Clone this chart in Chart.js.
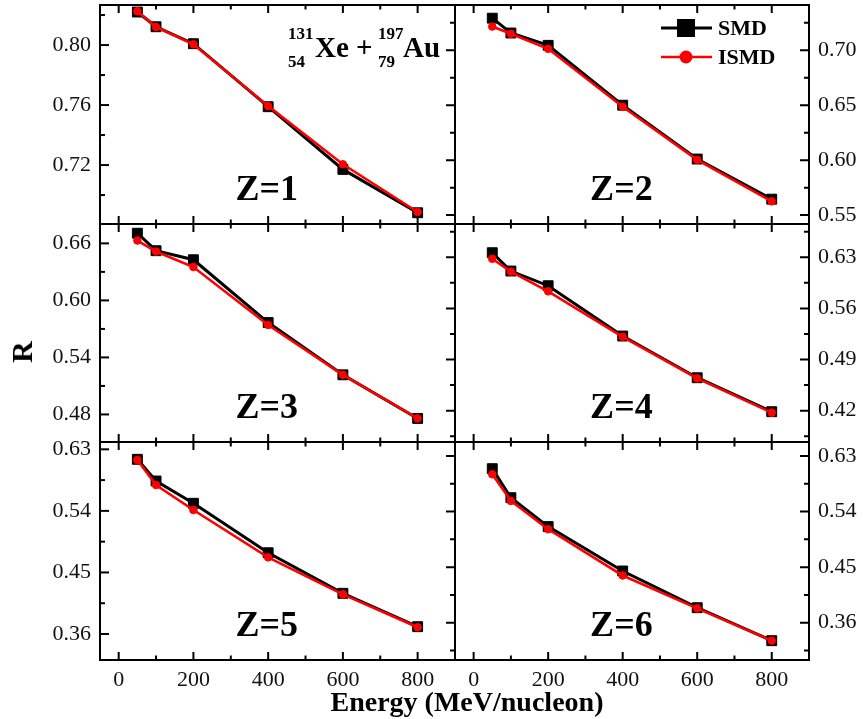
<!DOCTYPE html>
<html>
<head>
<meta charset="utf-8">
<script src="https://cdn.jsdelivr.net/npm/chart.js@4.4.1/dist/chart.umd.min.js"></script>
<style>
    body { margin: 0; background: #fff; }
    #wrap { position: relative; width: 864px; height: 719px; overflow: hidden; font-family: "Liberation Serif", "Times New Roman", serif; }
    #wrap canvas { position: absolute; }
    .lbl { position: absolute; font-weight: bold; color: #000; white-space: nowrap; }
    #yTitle { font-size: 30px; left: 22px; top: 352px; transform: translate(-50%, -50%) rotate(-90deg); }
    #xTitle { font-size: 28px; left: 467px; top: 702px; transform: translate(-50%, -50%); }
</style>
</head>
<body>
<div id="wrap">
    <canvas id="p1"></canvas>
    <canvas id="p2"></canvas>
    <canvas id="p3"></canvas>
    <canvas id="p4"></canvas>
    <canvas id="p5"></canvas>
    <canvas id="p6"></canvas>
    <div id="yTitle" class="lbl">R</div>
    <div id="xTitle" class="lbl">Energy (MeV/nucleon)</div>
</div>
<script>
// energia do feixe (MeV/nucleon)
const energia = [50, 100, 200, 400, 600, 800]
const xTicks = [0, 200, 400, 600, 800]

// R para cada Z (SMD x ISMD)
const smdZ1 = [0.822, 0.8122, 0.8009, 0.7589, 0.7171, 0.6882]
const ismdZ1 = [0.8225, 0.812, 0.8005, 0.7593, 0.7205, 0.6887]
const smdZ2 = [0.7292, 0.7157, 0.7045, 0.650, 0.601, 0.5645]
const ismdZ2 = [0.7216, 0.715, 0.7013, 0.6486, 0.6003, 0.5625]
const smdZ3 = [0.6707, 0.6523, 0.6428, 0.5767, 0.5217, 0.4758]
const ismdZ3 = [0.663, 0.6515, 0.6351, 0.5741, 0.5217, 0.4758]
const smdZ4 = [0.6363, 0.6112, 0.5911, 0.5222, 0.4651, 0.4186]
const ismdZ4 = [0.628, 0.6103, 0.5834, 0.5212, 0.4642, 0.4173]
const smdZ5 = [0.6154, 0.5837, 0.5511, 0.4788, 0.4195, 0.3707]
const ismdZ5 = [0.6144, 0.5778, 0.5413, 0.4721, 0.418, 0.3698]
const smdZ6 = [0.6095, 0.5625, 0.5157, 0.4438, 0.3843, 0.3309]
const ismdZ6 = [0.6004, 0.5572, 0.5113, 0.4365, 0.3832, 0.3309]

// ticks e limites do eixo y de cada painel
const yTicksZ1 = [0.72, 0.76, 0.80]
const yTicksZ2 = [0.55, 0.60, 0.65, 0.70]
const yTicksZ3 = [0.48, 0.54, 0.60, 0.66]
const yTicksZ4 = [0.42, 0.49, 0.56, 0.63]
const yTicksZ5 = [0.36, 0.45, 0.54, 0.63]
const yTicksZ6 = [0.36, 0.45, 0.54, 0.63]
const yLimZ1 = [0.6807, 0.8267]
const yLimZ2 = [0.5419, 0.7412]
const yLimZ3 = [0.451, 0.6804]
const yLimZ4 = [0.3771, 0.6756]
const yLimZ5 = [0.322, 0.6407]
const yLimZ6 = [0.2996, 0.6527]
const xLim = [-50, 900]

const paineis = [
    { id: "p1", z: "Z=1", smd: smdZ1, ismd: ismdZ1, ticks: yTicksZ1, lim: yLimZ1, col: 0, row: 0 },
    { id: "p2", z: "Z=2", smd: smdZ2, ismd: ismdZ2, ticks: yTicksZ2, lim: yLimZ2, col: 1, row: 0 },
    { id: "p3", z: "Z=3", smd: smdZ3, ismd: ismdZ3, ticks: yTicksZ3, lim: yLimZ3, col: 0, row: 1 },
    { id: "p4", z: "Z=4", smd: smdZ4, ismd: ismdZ4, ticks: yTicksZ4, lim: yLimZ4, col: 1, row: 1 },
    { id: "p5", z: "Z=5", smd: smdZ5, ismd: ismdZ5, ticks: yTicksZ5, lim: yLimZ5, col: 0, row: 2 },
    { id: "p6", z: "Z=6", smd: smdZ6, ismd: ismdZ6, ticks: yTicksZ6, lim: yLimZ6, col: 1, row: 2 }
]

const fonte = '"Liberation Serif", "Times New Roman", serif'

function ticksMenores(maiores, min, max) {
    let passo = maiores[1] - maiores[0]
    let out = []
    for (let v = maiores[0] - passo / 2; v < max; v += passo) {
        if (v > min) out.push(v)
    }
    return out
}

// zera o espaco extra que o Chart.js reserva para os rotulos das pontas
function semPadding(s) {
    s.paddingTop = 0
    s.paddingBottom = 0
    s.paddingLeft = 0
    s.paddingRight = 0
}

// moldura + ticks para dentro (estilo Origin)
const moldura = {
    id: "moldura",
    afterDraw(chart, args, o) {
        const { ctx, chartArea: a, scales: { x, y } } = chart
        ctx.save()
        ctx.strokeStyle = "#000"
        ctx.lineWidth = 2
        const tx = (v, len) => {
            let px = x.getPixelForValue(v)
            ctx.beginPath()
            ctx.moveTo(px, a.top); ctx.lineTo(px, a.top + len)
            ctx.moveTo(px, a.bottom); ctx.lineTo(px, a.bottom - len)
            ctx.stroke()
        }
        const ty = (v, len) => {
            let py = y.getPixelForValue(v)
            ctx.beginPath()
            if (o.esquerda) {
                ctx.moveTo(a.left, py); ctx.lineTo(a.left + len, py)
            } else {
                ctx.moveTo(a.left, py); ctx.lineTo(a.left - len, py)
                ctx.moveTo(a.right, py); ctx.lineTo(a.right - len, py)
            }
            ctx.stroke()
        }
        xTicks.forEach(v => tx(v, 8))
        ticksMenores(xTicks, xLim[0], xLim[1]).forEach(v => tx(v, 4.5))
        o.ticks.forEach(v => ty(v, 9))
        ticksMenores(o.ticks, y.min, y.max).forEach(v => ty(v, 5))
        ctx.strokeRect(a.left, a.top, a.right - a.left, a.bottom - a.top)
        ctx.restore()
    }
}

// textos dentro dos paineis: Z=n, reacao e legenda
const rotulos = {
    id: "rotulos",
    afterDraw(chart, args, o) {
        const { ctx, chartArea: a } = chart
        ctx.save()
        ctx.fillStyle = "#000"
        ctx.textAlign = "center"
        ctx.textBaseline = "middle"
        ctx.font = "bold 36px " + fonte
        ctx.fillText(o.texto, a.left + (a.right - a.left) * 0.47, a.bottom - 33)

        if (o.reacao) {
            ctx.textAlign = "left"
            ctx.textBaseline = "alphabetic"
            ctx.font = "bold 29px " + fonte
            ctx.fillText("Xe +", a.left + 215, a.top + 52)
            ctx.fillText("Au", a.left + 303, a.top + 52)
            ctx.font = "bold 17px " + fonte
            ctx.fillText("131", a.left + 188, a.top + 34)
            ctx.fillText("54", a.left + 188, a.top + 62)
            ctx.fillText("197", a.left + 278, a.top + 34)
            ctx.fillText("79", a.left + 278, a.top + 62)
        }

        if (o.legenda) {
            chart.data.datasets.forEach((ds, i) => {
                let yy = a.top + 23 + i * 29
                ctx.strokeStyle = ds.borderColor
                ctx.fillStyle = ds.backgroundColor
                ctx.lineWidth = ds.borderWidth
                ctx.beginPath()
                ctx.moveTo(a.left + 206, yy); ctx.lineTo(a.left + 257, yy)
                ctx.stroke()
                if (ds.pointStyle === "rect") {
                    ctx.fillRect(a.left + 222, yy - 9, 18, 18)
                } else {
                    ctx.beginPath()
                    ctx.arc(a.left + 231, yy, 6.5, 0, Math.PI * 2)
                    ctx.fill()
                }
                ctx.fillStyle = "#000"
                ctx.textAlign = "left"
                ctx.textBaseline = "middle"
                ctx.font = "bold 22px " + fonte
                ctx.fillText(ds.label, a.left + 263, yy + 1)
            })
        }
        ctx.restore()
    }
}

function criarPainel(p) {
    let cv = document.getElementById(p.id)
    let esquerda = p.col === 0
    let ultima = p.row === 2
    let larg = esquerda ? 458 : 424
    let alt = [227, 224, 280][p.row]
    cv.width = larg
    cv.height = alt
    cv.style.left = (esquerda ? 0 : 440) + "px"
    cv.style.top = [0, 221, 439][p.row] + "px"

    let fonteTicks = { family: fonte, size: 22 }

    new Chart(cv, {
        type: "line",
        data: {
            datasets: [{
                label: "SMD",
                data: energia.map((e, i) => ({ x: e, y: p.smd[i] })),
                borderColor: "#000",
                backgroundColor: "#000",
                borderWidth: 3,
                pointStyle: "rect",
                pointRadius: 7,
                pointBorderWidth: 1,
                order: 1
            }, {
                label: "ISMD",
                data: energia.map((e, i) => ({ x: e, y: p.ismd[i] })),
                borderColor: "#ff0000",
                backgroundColor: "#ff0000",
                borderWidth: 2.6,
                pointStyle: "circle",
                pointRadius: 3.8,
                pointBorderWidth: 1,
                order: 0
            }]
        },
        options: {
            responsive: false,
            animation: false,
            devicePixelRatio: 1,
            layout: {
                autoPadding: false,
                padding: {
                    left: esquerda ? 0 : 15,
                    right: esquerda ? 3 : 0,
                    top: p.row === 0 ? 5 : 3,
                    bottom: ultima ? 0 : 3
                }
            },
            plugins: {
                legend: { display: false },
                tooltip: { enabled: false },
                moldura: { esquerda: esquerda, ticks: p.ticks },
                rotulos: { texto: p.z, reacao: p.id === "p1", legenda: p.id === "p2" }
            },
            scales: {
                x: {
                    type: "linear",
                    min: xLim[0],
                    max: xLim[1],
                    display: ultima,
                    grid: { display: false, drawTicks: false },
                    border: { display: false },
                    ticks: { font: fonteTicks, color: "#111", padding: 7, maxRotation: 0 },
                    afterBuildTicks: s => { s.ticks = xTicks.map(v => ({ value: v })) },
                    afterFit: s => {
                        semPadding(s)
                        if (ultima) s.height = 59
                    }
                },
                y: {
                    position: esquerda ? "left" : "right",
                    min: p.lim[0],
                    max: p.lim[1],
                    grid: { display: false, drawTicks: false },
                    border: { display: false },
                    ticks: { font: fonteTicks, color: "#111", padding: 9, callback: v => v.toFixed(2) },
                    afterBuildTicks: s => { s.ticks = p.ticks.map(v => ({ value: v })) },
                    afterFit: s => {
                        semPadding(s)
                        s.width = esquerda ? 100 : 55
                    }
                }
            }
        },
        plugins: [moldura, rotulos]
    })
}

paineis.forEach(criarPainel)
</script>
</body>
</html>
